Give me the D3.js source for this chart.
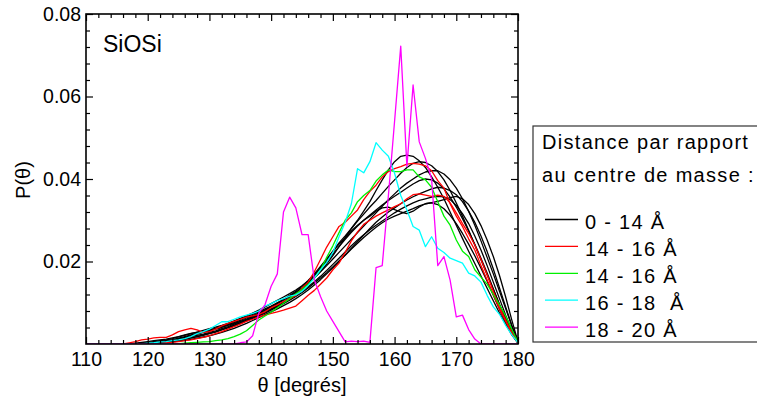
<!DOCTYPE html>
<html><head><meta charset="utf-8">
<script src="https://cdn.jsdelivr.net/npm/d3@7"></script>
<style>
body{margin:0;background:#fff;}
text{font-family:"Liberation Sans",Arial,sans-serif;fill:#000;}
</style></head>
<body><svg id="c" width="757" height="401"></svg>
<script>
const theta=[110,111,112,113,114,115,116,117,118,119,120,121,122,123,124,125,126,127,128,129,130,131,132,133,134,135,136,137,138,139,140,141,142,143,144,145,146,147,148,149,150,151,152,153,154,155,156,157,158,159,160,161,162,163,164,165,166,167,168,169,170,171,172,173,174,175,176,177,178,179,180];
const xTicks=[110,120,130,140,150,160,170,180];
const yTicks=[0.02,0.04,0.06,0.08];
const legendTitle=["Distance par rapport","au centre de masse :"];
const legendLabels=["0 - 14 Å","14 - 16 Å","14 - 16 Å","16 - 18  Å","18 - 20 Å"];
const legendColors=["#000000","#ff0000","#00f000","#00ffff","#ff00ff"];

const black1=[0,0,0,0,0,0,0,0,0.0002,0.0004,0.0006,0.0008,0.001,0.0012,0.0015,0.0018,0.0022,0.0026,0.0028,0.003,0.0033,0.0037,0.0042,0.0048,0.0054,0.006,0.0066,0.0072,0.0078,0.0085,0.0092,0.01,0.0108,0.0116,0.0125,0.0135,0.0148,0.0165,0.0185,0.0205,0.0225,0.0245,0.0262,0.028,0.03,0.0322,0.0345,0.0372,0.0398,0.0422,0.0442,0.0455,0.0458,0.0455,0.0444,0.0428,0.0405,0.038,0.0352,0.032,0.0288,0.0256,0.0225,0.0195,0.0165,0.0135,0.0105,0.0075,0.0048,0.0022,0.0002];
const black2=[0,0,0,0,0,0,0,0,0,0,0.0002,0.0004,0.0006,0.0008,0.001,0.0013,0.0016,0.002,0.0024,0.0028,0.0032,0.0036,0.004,0.0045,0.005,0.0055,0.006,0.0066,0.0072,0.0078,0.0085,0.0093,0.0102,0.0112,0.0122,0.0133,0.0146,0.016,0.0176,0.0194,0.0214,0.0236,0.0258,0.028,0.0298,0.0315,0.0332,0.0348,0.0365,0.0382,0.0398,0.0414,0.0428,0.0438,0.0442,0.044,0.0432,0.0418,0.0398,0.0372,0.0342,0.031,0.0276,0.024,0.0204,0.0168,0.0132,0.0096,0.0062,0.003,0.0003];
const black3=[0,0,0,0,0,0,0,0,0,0,0.0001,0.0002,0.0004,0.0006,0.0009,0.0012,0.0015,0.0018,0.0021,0.0024,0.0028,0.0032,0.0037,0.0042,0.0048,0.0054,0.006,0.0067,0.0074,0.0082,0.009,0.0098,0.0106,0.0115,0.0125,0.0136,0.0148,0.0161,0.0175,0.019,0.0206,0.0222,0.0238,0.0254,0.027,0.0286,0.0302,0.0318,0.0334,0.035,0.0364,0.0378,0.039,0.04,0.041,0.0417,0.042,0.042,0.0412,0.0398,0.0378,0.0352,0.0322,0.0288,0.025,0.021,0.017,0.0128,0.0086,0.0044,0.0004];
const black4=[0,0,0,0,0,0,0,0,0,0,0,0.0002,0.0004,0.0006,0.0008,0.001,0.0012,0.0015,0.0018,0.0021,0.0025,0.0029,0.0034,0.0039,0.0044,0.005,0.0056,0.0062,0.0068,0.0075,0.0082,0.009,0.0098,0.0106,0.0115,0.0125,0.0136,0.0148,0.016,0.0173,0.0187,0.0201,0.0215,0.023,0.0244,0.0258,0.0271,0.0283,0.0294,0.0303,0.031,0.0316,0.0322,0.0328,0.0335,0.034,0.0343,0.0346,0.035,0.0355,0.0358,0.0352,0.0338,0.0316,0.0287,0.0252,0.0212,0.0166,0.0114,0.0058,0.0005];
const black5=[0,0,0,0,0,0,0,0,0,0,0,0,0.0002,0.0004,0.0006,0.0009,0.0012,0.0015,0.0018,0.0022,0.0026,0.003,0.0035,0.004,0.0046,0.0052,0.0058,0.0064,0.007,0.0077,0.0084,0.0092,0.01,0.0109,0.0118,0.0128,0.0139,0.0151,0.0164,0.0178,0.0193,0.0208,0.0223,0.0238,0.0252,0.0265,0.0277,0.0288,0.0298,0.0308,0.0318,0.0327,0.0335,0.0342,0.0348,0.0352,0.0356,0.0358,0.0357,0.035,0.0336,0.0316,0.0292,0.0262,0.0228,0.019,0.015,0.011,0.007,0.0034,0.0003];
const black6=[0,0,0,0,0,0,0,0,0,0,0,0.0002,0.0004,0.0007,0.001,0.0014,0.0018,0.0022,0.0026,0.003,0.0034,0.0038,0.0042,0.0047,0.0052,0.0057,0.0063,0.0069,0.0075,0.0082,0.009,0.0099,0.0108,0.0118,0.0128,0.014,0.0154,0.017,0.0188,0.0206,0.0224,0.0242,0.0258,0.0274,0.0288,0.03,0.031,0.0322,0.033,0.0332,0.0326,0.032,0.0316,0.0322,0.0332,0.034,0.0342,0.0338,0.0328,0.0312,0.0292,0.0268,0.0242,0.0214,0.0184,0.0152,0.0118,0.0084,0.0052,0.0024,0.0002];
const black7=[0,0,0,0,0,0,0,0,0,0.0002,0.0004,0.0006,0.0008,0.001,0.0013,0.0017,0.0021,0.0025,0.0029,0.0033,0.0037,0.0041,0.0045,0.005,0.0056,0.0062,0.0068,0.0075,0.0082,0.009,0.0098,0.0106,0.0114,0.0122,0.0131,0.0141,0.0153,0.0167,0.0183,0.02,0.0218,0.0236,0.0254,0.0271,0.0286,0.03,0.0313,0.0325,0.0337,0.0348,0.0358,0.0368,0.0378,0.0388,0.0396,0.04,0.0398,0.039,0.0376,0.0356,0.0332,0.0304,0.0274,0.0242,0.0208,0.0172,0.0134,0.0096,0.006,0.0028,0.0002];
const black8=[0,0,0,0,0,0,0,0,0,0,0,0,0.0001,0.0003,0.0005,0.0007,0.0009,0.0011,0.0014,0.0017,0.002,0.0024,0.0028,0.0033,0.0038,0.0044,0.005,0.0057,0.0064,0.0071,0.0078,0.0085,0.0093,0.0101,0.011,0.012,0.0131,0.0143,0.0156,0.017,0.0185,0.02,0.0216,0.0232,0.0248,0.0264,0.028,0.0295,0.0308,0.032,0.033,0.034,0.0349,0.0357,0.0364,0.037,0.0376,0.038,0.0378,0.0372,0.0362,0.0345,0.0322,0.0295,0.0262,0.0224,0.0182,0.0136,0.009,0.0045,0.0004];
const redA=[0,0,0,0,0,0,0,0.0003,0.0006,0.001,0.0012,0.0015,0.0016,0.0016,0.0022,0.003,0.0034,0.0038,0.0034,0.0028,0.003,0.0036,0.0044,0.005,0.0055,0.006,0.0065,0.0068,0.0072,0.0078,0.0088,0.0095,0.0103,0.011,0.0118,0.0135,0.015,0.0175,0.0205,0.0235,0.026,0.0285,0.0295,0.031,0.0325,0.035,0.037,0.0385,0.0405,0.0418,0.0425,0.043,0.0436,0.0438,0.0436,0.0432,0.042,0.0396,0.0378,0.034,0.031,0.0285,0.0255,0.0228,0.019,0.0155,0.012,0.0085,0.0055,0.0025,0.0002];
const redB=[0,0,0,0,0,0,0,0,0,0,0,0,0.0001,0.0003,0.0004,0.0006,0.0008,0.001,0.0013,0.0016,0.002,0.0025,0.003,0.0036,0.0042,0.0048,0.0055,0.006,0.0066,0.007,0.0074,0.0078,0.0082,0.0087,0.0092,0.0105,0.0118,0.013,0.0145,0.016,0.018,0.0196,0.0222,0.025,0.0272,0.029,0.03,0.031,0.0318,0.0325,0.0333,0.034,0.0352,0.0362,0.0364,0.0361,0.0358,0.0361,0.0358,0.0342,0.0318,0.0292,0.0268,0.024,0.0205,0.0168,0.0128,0.009,0.0058,0.0028,0.0003];
const green=[0,0,0,0,0,0,0,0,0,0,0,0,0,0,0,0.0001,0.0002,0.0003,0.0004,0.0005,0.0006,0.0008,0.001,0.0013,0.0018,0.0024,0.0032,0.0045,0.0058,0.0068,0.0077,0.0088,0.0099,0.011,0.0122,0.0132,0.0145,0.016,0.018,0.021,0.0238,0.027,0.03,0.0318,0.0345,0.036,0.0372,0.0395,0.041,0.0422,0.0418,0.0418,0.0422,0.0422,0.0405,0.0398,0.038,0.0345,0.031,0.0288,0.0252,0.0225,0.0212,0.018,0.0162,0.0145,0.012,0.0095,0.0068,0.0035,0.0005];
const cyan=[0,0,0,0,0,0,0,0,0,0,0.0002,0.0003,0.0005,0.0006,0.0008,0.001,0.0013,0.0018,0.0025,0.003,0.0036,0.0045,0.0054,0.0054,0.006,0.0066,0.007,0.0074,0.008,0.0092,0.0098,0.0105,0.011,0.0116,0.0119,0.0128,0.0142,0.016,0.018,0.0198,0.0222,0.026,0.0295,0.034,0.0425,0.0415,0.0442,0.0488,0.047,0.0455,0.0414,0.036,0.0325,0.0285,0.0276,0.0236,0.026,0.0232,0.0222,0.0208,0.0202,0.0196,0.0172,0.0165,0.015,0.0118,0.009,0.0072,0.0045,0.0022,0.0003];
const magenta=[0,0,0,0,0,0,0,0,0,0,0,0,0,0,0,0,0,0,0,0,0,0,0,0,0,0.0003,0.0005,0.002,0.0075,0.0095,0.014,0.017,0.032,0.0356,0.033,0.0265,0.0265,0.0155,0.0115,0.008,0.0055,0.003,0.0005,0.0007,0.0006,0.0007,0.0004,0.0185,0.019,0.036,0.054,0.0722,0.043,0.0628,0.049,0.045,0.04,0.019,0.0212,0.0155,0.0066,0.007,0.0035,0.0012,0,0,0,0,0,0,0];

const series=[
 {v:black1,c:legendColors[0]},{v:black2,c:legendColors[0]},{v:black3,c:legendColors[0]},{v:black4,c:legendColors[0]},
 {v:black5,c:legendColors[0]},{v:black6,c:legendColors[0]},{v:black7,c:legendColors[0]},{v:black8,c:legendColors[0]},
 {v:redA,c:legendColors[1]},{v:redB,c:legendColors[1]},{v:green,c:legendColors[2]},{v:cyan,c:legendColors[3]},{v:magenta,c:legendColors[4]}
];

const svg=d3.select("#c");
const L=86,R=518,T=14,B=344;
const x=d3.scaleLinear().domain([110,180]).range([L,R]);
const y=d3.scaleLinear().domain([0,0.08]).range([B,T]);
const xMinor=d3.range(110,181,2).filter(d=>d%10!==0);
const yMinor=d3.range(1,20).map(i=>+(i*0.004).toFixed(3)).filter(d=>Math.abs(d/0.02-Math.round(d/0.02))>1e-6);

svg.append("clipPath").attr("id","clip").append("rect").attr("x",L).attr("y",T).attr("width",R-L).attr("height",B-T);
const line=d3.line().x((d,i)=>x(theta[i])).y(d=>y(d));
const g=svg.append("g").attr("clip-path","url(#clip)");
series.forEach(s=>{
  g.append("path").attr("d",line(s.v)).attr("fill","none").attr("stroke",s.c).attr("stroke-width",1.3).attr("stroke-linejoin","round");
});

function styleAxis(sel){sel.select(".domain").remove();sel.selectAll("line").attr("stroke","#000").attr("stroke-width",1.2);sel.selectAll("text").style("font-size","19.5px").attr("font-family","Liberation Sans, Arial, sans-serif");}
svg.append("g").attr("transform",`translate(0,${B})`).call(d3.axisBottom(x).tickValues(xTicks).tickSize(-7).tickPadding(8).tickFormat(d3.format("d"))).call(styleAxis);
svg.append("g").attr("transform",`translate(0,${B})`).call(d3.axisBottom(x).tickValues(xMinor).tickSize(-4).tickFormat("")).call(styleAxis);
svg.append("g").attr("transform",`translate(0,${T})`).call(d3.axisTop(x).tickValues(xTicks).tickSize(-7).tickFormat("")).call(styleAxis);
svg.append("g").attr("transform",`translate(0,${T})`).call(d3.axisTop(x).tickValues(xMinor).tickSize(-4).tickFormat("")).call(styleAxis);
svg.append("g").attr("transform",`translate(${L},0)`).call(d3.axisLeft(y).tickValues(yTicks).tickSize(-7).tickPadding(5).tickFormat(d3.format(".2f"))).call(styleAxis);
svg.append("g").attr("transform",`translate(${L},0)`).call(d3.axisLeft(y).tickValues(yMinor).tickSize(-4).tickFormat("")).call(styleAxis);
svg.append("g").attr("transform",`translate(${R},0)`).call(d3.axisRight(y).tickValues(yTicks).tickSize(-7).tickFormat("")).call(styleAxis);
svg.append("g").attr("transform",`translate(${R},0)`).call(d3.axisRight(y).tickValues(yMinor).tickSize(-4).tickFormat("")).call(styleAxis);

svg.append("rect").attr("x",L).attr("y",T).attr("width",R-L).attr("height",B-T).attr("fill","none").attr("stroke","#000").attr("stroke-width",1.6);

svg.append("text").attr("x",(L+R)/2).attr("y",392).attr("text-anchor","middle").style("font-size","20px").text("θ [degrés]");
svg.append("text").attr("transform","translate(30,180) rotate(-90)").attr("text-anchor","middle").style("font-size","20px").text("P(θ)");
svg.append("text").attr("x",103).attr("y",52).style("font-size","23px").text("SiOSi");

const lg=svg.append("g");
lg.append("rect").attr("x",533).attr("y",126).attr("width",240).attr("height",216).attr("fill","#fff").attr("stroke","#333").attr("stroke-width",1.2);
legendTitle.forEach((t,i)=>{
  lg.append("text").attr("x",542).attr("y",149+i*32.5).style("font-size","20px").style("letter-spacing","1.3px").text(t);
});
legendLabels.forEach((t,i)=>{
  const by=229+i*26.9;
  lg.append("line").attr("x1",545).attr("x2",578).attr("y1",by-9.5).attr("y2",by-9.5).attr("stroke",legendColors[i]).attr("stroke-width",1.3);
  lg.append("text").attr("x",585).attr("y",by).style("font-size","20px").style("letter-spacing","1.3px").style("white-space","pre").text(t);
});
</script></body></html>
